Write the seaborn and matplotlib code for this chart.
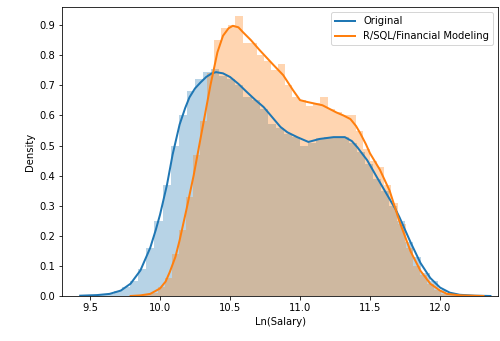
import numpy as np
import pandas as pd
import matplotlib
matplotlib.use("Agg")
import matplotlib.pyplot as plt
import seaborn as sns

# histogram bar heights (density)
blue_edges = np.linspace(9.44, 12.33, 51)
blue_heights = [0.0, 0.002, 0.004, 0.008, 0.015, 0.03, 0.05, 0.09, 0.16, 0.25,
                0.37, 0.50, 0.60, 0.68, 0.72, 0.745, 0.755, 0.73, 0.72, 0.70,
                0.66, 0.65, 0.62, 0.57, 0.56, 0.54, 0.53, 0.50, 0.51, 0.525,
                0.53, 0.53, 0.53, 0.51, 0.48, 0.44, 0.39, 0.35, 0.30, 0.25,
                0.18, 0.13, 0.075, 0.05, 0.02, 0.01, 0.004, 0.002, 0.001, 0.001]

orange_edges = np.linspace(9.78, 12.31, 51)
orange_heights = [0.0, 0.002, 0.004, 0.01, 0.03, 0.06, 0.14, 0.22, 0.33, 0.47,
                  0.58, 0.74, 0.85, 0.89, 0.90, 0.93, 0.84, 0.84, 0.80, 0.78,
                  0.75, 0.77, 0.70, 0.66, 0.65, 0.63, 0.64, 0.66, 0.62, 0.61,
                  0.60, 0.60, 0.55, 0.49, 0.45, 0.43, 0.37, 0.31, 0.24, 0.16,
                  0.10, 0.07, 0.04, 0.02, 0.008, 0.004, 0.002, 0.001, 0.001, 0.001]

# kde curves
blue_kde_x = [9.43, 9.55, 9.64, 9.72, 9.79, 9.86, 9.93, 9.97, 10.0, 10.05, 10.09,
              10.14, 10.18, 10.21, 10.25, 10.29, 10.33, 10.37, 10.40, 10.45, 10.50,
              10.56, 10.62, 10.68, 10.74, 10.80, 10.86, 10.91, 10.98, 11.06, 11.14,
              11.24, 11.32, 11.37, 11.41, 11.48, 11.55, 11.62, 11.68, 11.71, 11.79,
              11.86, 11.93, 12.0, 12.07, 12.14, 12.25, 12.36]
blue_kde_y = [0.001, 0.003, 0.007, 0.018, 0.041, 0.085, 0.16, 0.22, 0.27, 0.37, 0.47,
              0.57, 0.625, 0.66, 0.69, 0.71, 0.728, 0.74, 0.744, 0.74, 0.728,
              0.705, 0.678, 0.652, 0.628, 0.595, 0.562, 0.544, 0.528, 0.512, 0.522,
              0.528, 0.528, 0.515, 0.494, 0.451, 0.394, 0.338, 0.29, 0.262, 0.178,
              0.11, 0.06, 0.028, 0.011, 0.004, 0.001, 0.0]

orange_kde_x = [9.79, 9.86, 9.93, 10.0, 10.04, 10.07, 10.11, 10.14, 10.19, 10.24,
                10.28, 10.31, 10.36, 10.41, 10.45, 10.49, 10.52, 10.56, 10.59, 10.65,
                10.71, 10.76, 10.81, 10.88, 10.95, 11.0, 11.05, 11.09, 11.16, 11.21,
                11.26, 11.31, 11.36, 11.40, 11.43, 11.47, 11.50, 11.57, 11.64, 11.71,
                11.79, 11.86, 11.93, 12.0, 12.05, 12.15, 12.31]
orange_kde_y = [0.0, 0.002, 0.007, 0.025, 0.048, 0.08, 0.13, 0.185, 0.29, 0.40,
                0.50, 0.575, 0.70, 0.81, 0.865, 0.89, 0.898, 0.893, 0.878, 0.85,
                0.818, 0.793, 0.768, 0.734, 0.684, 0.651, 0.645, 0.641, 0.634, 0.622,
                0.61, 0.60, 0.588, 0.565, 0.541, 0.505, 0.474, 0.42, 0.35, 0.248,
                0.148, 0.084, 0.041, 0.018, 0.007, 0.002, 0.0]

labels = ['Original', 'R/SQL/Financial Modeling']


fig = plt.figure(figsize=(500 / 72, 341 / 72), dpi=72)
ax = fig.add_axes([0.124, 0.132, 0.872, 0.847])

series = [
    (blue_edges, blue_heights, blue_kde_x, blue_kde_y, 'C0', labels[0]),
    (orange_edges, orange_heights, orange_kde_x, orange_kde_y, 'C1', labels[1]),
]
for edges, heights, kx, ky, color, label in series:
    hist_df = pd.DataFrame({'x': (edges[:-1] + edges[1:]) / 2, 'w': heights})
    sns.histplot(data=hist_df, x='x', weights='w', bins=edges.tolist(),
                 color=color, alpha=0.32, linewidth=0, ax=ax)
    sns.lineplot(x=kx, y=ky, color=color, linewidth=2, label=label,
                 sort=False, ax=ax)

ax.set_xlim(9.3, 12.414)
ax.set_ylim(0, 0.96)
ax.set_xticks([9.5, 10.0, 10.5, 11.0, 11.5, 12.0])
ax.set_yticks(np.arange(0, 1.0, 0.1))
ax.set_xlabel('Ln(Salary)')
ax.set_ylabel('Density')
ax.legend(loc='upper right')

fig.savefig('out.png', dpi=72)
